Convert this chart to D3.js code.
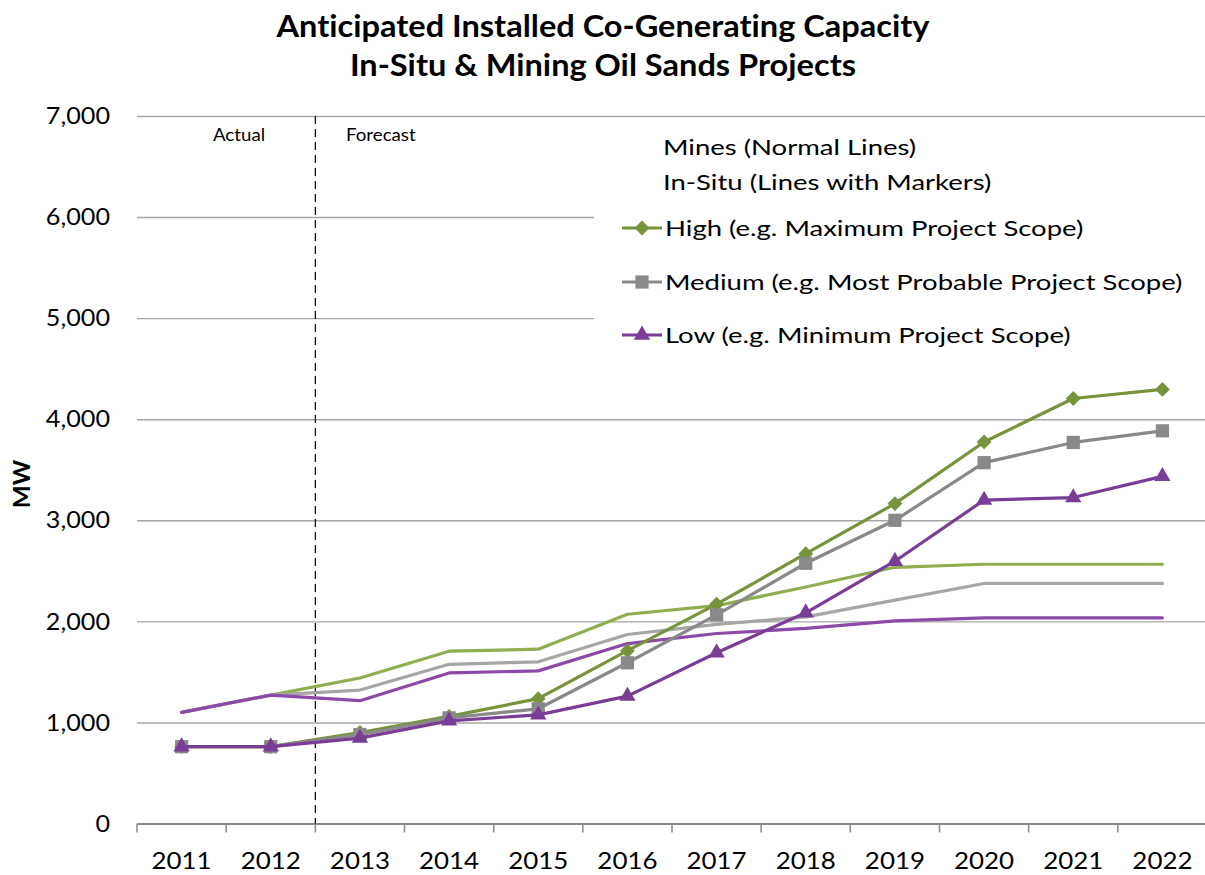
<!DOCTYPE html>
<html>
<head>
<meta charset="utf-8">
<script src="https://cdn.jsdelivr.net/npm/d3@7"></script>
<style>
  html, body { margin: 0; padding: 0; background: #fff; }
  svg { display: block; }
  text { font-family: Lato, "Open Sans", sans-serif; fill: #000; font-variant-ligatures: none; font-feature-settings: "liga" 0, "dlig" 0; }
</style>
</head>
<body>
<svg id="chart" width="1205" height="875"></svg>
<script>
// ---------- data ----------
const years = ["2011","2012","2013","2014","2015","2016","2017","2018","2019","2020","2021","2022"];
const yTicks = [0, 1000, 2000, 3000, 4000, 5000, 6000, 7000];

// Mines (normal lines)
const minesHigh   = [1100, 1270, 1440, 1705, 1725, 2070, 2155, 2340, 2535, 2565, 2565, 2565];
const minesMedium = [1100, 1270, 1320, 1575, 1600, 1870, 1970, 2045, 2210, 2375, 2375, 2375];
const minesLow    = [1100, 1270, 1215, 1490, 1510, 1780, 1880, 1930, 2005, 2035, 2035, 2035];

// In-Situ (lines with markers)
const insituHigh   = [760, 760, 900, 1060, 1235, 1710, 2170, 2670, 3165, 3775, 4205, 4295];
const insituMedium = [760, 760, 880, 1045, 1135, 1590, 2065, 2575, 3000, 3570, 3770, 3885];
const insituLow    = [760, 760, 845, 1015, 1075, 1260, 1690, 2085, 2595, 3200, 3225, 3435];

const legendLabels = [
  "High (e.g. Maximum Project Scope)",
  "Medium (e.g. Most Probable Project Scope)",
  "Low (e.g. Minimum Project Scope)"
];

// ---------- styling ----------
const colInsitu = ["#77933C", "#898989", "#7A3D96"];
const colMines  = ["#8FAE50", "#A6A6A6", "#8C4AA8"];

const svg = d3.select("#chart");
const pLeft = 137, pRight = 1207, pTop = 116, pBottom = 823.5;

function stext(x, y, str, size, sx, anchor, weight) {
  return svg.append("text")
    .attr("transform", `translate(${x},${y}) scale(${sx},1)`)
    .attr("text-anchor", anchor || "start")
    .attr("font-size", size)
    .attr("font-weight", weight || "normal")
    .text(str);
}

const x = d3.scaleBand().domain(years).range([pLeft, pRight]).paddingInner(0).paddingOuter(0);
const y = d3.scaleLinear().domain([0, 7000]).range([pBottom, pTop]);
const cx = d => x(d) + x.bandwidth() / 2;

// ---------- gridlines + y tick labels ----------
const tickSx = 1.05;
const yAxis = d3.axisLeft(y).tickValues(yTicks).tickFormat(d3.format(","))
  .tickSize(-(pRight - pLeft)).tickPadding(27 / tickSx);
const gy = svg.append("g").attr("transform", `translate(${pLeft},0)`).call(yAxis);
gy.select(".domain").remove();
gy.selectAll(".tick line").attr("stroke", "#A6A6A6").attr("stroke-width", 1.4);
gy.selectAll(".tick text").attr("font-size", 24).attr("fill", "#000")
  .attr("font-family", "Lato, sans-serif").attr("transform", `scale(${tickSx},1)`);
gy.selectAll(".tick").filter(d => d === 0).select("line").attr("stroke", "transparent");

// ---------- legend background (covers gridlines) ----------
svg.append("rect").attr("x", 594).attr("y", 124).attr("width", 620).attr("height", 240).attr("fill", "#fff");

// ---------- x axis ----------
const gx = svg.append("g").attr("transform", `translate(0,${pBottom})`)
  .call(d3.axisBottom(x).tickSize(0).tickPadding(28.5));
gx.select(".domain").attr("stroke", "#888").attr("stroke-width", 2);
gx.selectAll(".tick text").attr("font-size", 24).attr("fill", "#000")
  .attr("font-family", "Lato, sans-serif").attr("transform", "scale(1.08,1)");
// boundary tick marks
const bounds = years.map(d => x(d)).concat([x.range()[1]]);
svg.append("g").selectAll("line").data(bounds).join("line")
  .attr("x1", d => d).attr("x2", d => d)
  .attr("y1", pBottom).attr("y2", pBottom + 9)
  .attr("stroke", "#888").attr("stroke-width", 1.5);

// ---------- Actual / Forecast divider ----------
const divX = x("2013");
svg.append("line").attr("x1", divX).attr("x2", divX).attr("y1", pTop).attr("y2", pBottom)
  .attr("stroke", "#000").attr("stroke-width", 1.2).attr("stroke-dasharray", "8,5");
stext(239, 141, "Actual", 17, 1.1, "middle");
stext(346, 141, "Forecast", 17, 1.1, "start");

// ---------- lines ----------
const line = d3.line().x((d, i) => cx(years[i])).y(d => y(d));

[minesHigh, minesMedium, minesLow].forEach((s, k) => {
  svg.append("path").datum(s).attr("d", line).attr("fill", "none")
    .attr("stroke", colMines[k]).attr("stroke-width", 3.2).attr("stroke-linejoin", "round").attr("stroke-linecap", "round");
});

const symbols = [
  d3.symbol().type(d3.symbolSquare).size(110),   // rotated -> diamond
  d3.symbol().type(d3.symbolSquare).size(175),
  d3.symbol().type(d3.symbolTriangle).size(115)
];
const rot = [45, 0, 0];

[insituHigh, insituMedium, insituLow].forEach((s, k) => {
  svg.append("path").datum(s).attr("d", line).attr("fill", "none")
    .attr("stroke", colInsitu[k]).attr("stroke-width", 3.2).attr("stroke-linejoin", "round");
  svg.append("g").selectAll("path").data(s).join("path")
    .attr("d", symbols[k]())
    .attr("transform", (d, i) => `translate(${cx(years[i])},${y(d)}) rotate(${rot[k]})`)
    .attr("fill", colInsitu[k]);
});

// ---------- legend ----------
const legSx = 1.25;
stext(663, 155, "Mines (Normal Lines)", 22, legSx);
stext(663, 190, "In-Situ (Lines with Markers)", 22, legSx);
const legY = [228, 282, 335];
legendLabels.forEach((lab, k) => {
  svg.append("line").attr("x1", 622).attr("x2", 662).attr("y1", legY[k]).attr("y2", legY[k])
    .attr("stroke", colInsitu[k]).attr("stroke-width", 3.2);
  svg.append("path").attr("d", symbols[k]())
    .attr("transform", `translate(642,${legY[k]}) rotate(${rot[k]})`).attr("fill", colInsitu[k]);
  stext(665, legY[k] + 8, lab, 22, legSx);
});

// ---------- titles ----------
stext(603, 37, "Anticipated Installed Co-Generating Capacity", 30, 1.085, "middle", "bold");
stext(603, 76, "In-Situ & Mining Oil Sands Projects", 30, 1.085, "middle", "bold");
svg.append("text").attr("transform", "translate(30,484) rotate(-90) scale(1.1,1)").attr("text-anchor", "middle")
  .attr("font-size", 22).attr("font-weight", "bold").text("MW");
</script>
</body>
</html>
